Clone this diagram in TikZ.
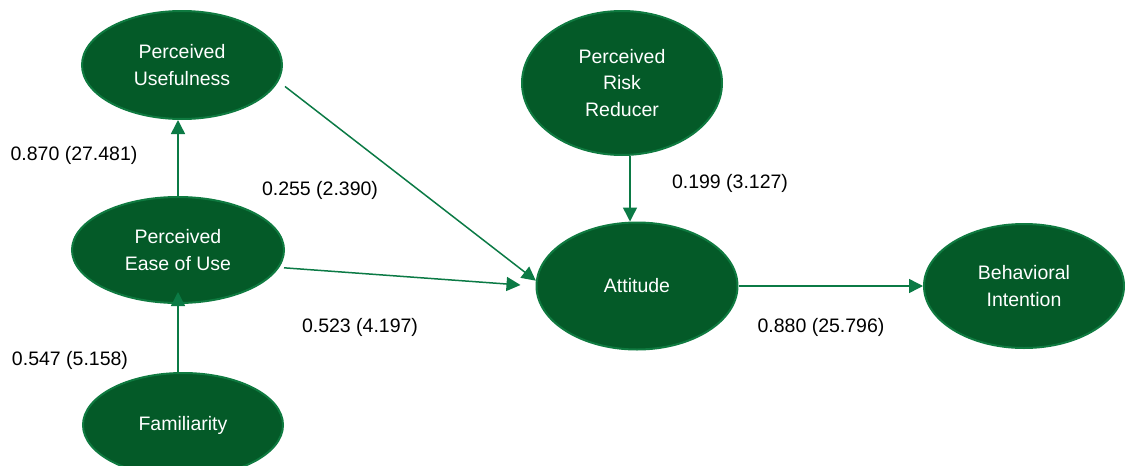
\documentclass[tikz,border=0pt]{standalone}
\usepackage{fontspec}
\setmainfont{Liberation Sans}
\usetikzlibrary{shapes.geometric,arrows.meta}
\definecolor{efill}{HTML}{045A28}
\definecolor{edraw}{HTML}{0F7A40}
\definecolor{arr}{HTML}{0B7A45}
\begin{document}
\begin{tikzpicture}[x=1pt,y=-1pt,
  lat/.style={ellipse, fill=efill, draw=edraw, line width=2pt, text=white,
    align=center, inner sep=0pt, font=\fontsize{19.5}{26.5}\selectfont},
  link/.style={draw=arr, line width=1.5pt, -{Triangle[length=14pt,width=14pt]}},
  coef/.style={font=\fontsize{19.5}{24}\selectfont, text=black, inner sep=0pt}]
\useasboundingbox (0,0) rectangle (1125,466);
\clip (0,0) rectangle (1125,466);

\node[lat, minimum width=200pt, minimum height=108pt] (PU) at (182,65) {Perceived\\Usefulness};
\node[lat, minimum width=212pt, minimum height=106pt] (PEOU) at (178,250) {Perceived\\Ease of Use};
\node[lat, minimum width=200pt, minimum height=104pt] (Fam) at (183,425) {Familiarity};
\node[lat, minimum width=200pt, minimum height=144pt] (PRR) at (622,83) {Perceived\\Risk\\Reducer};
\node[lat, minimum width=201pt, minimum height=127pt] (Att) at (637,286) {Attitude};
\node[lat, minimum width=200pt, minimum height=124pt] (BI) at (1024,286) {Behavioral\\Intention};

\draw[link] (PEOU.north) -- (PEOU.north |- PU.south);
\draw[link] (PEOU.south |- Fam.north) -- ([yshift=12pt]PEOU.south);
\draw[link] ([xshift=10pt]PU.-13) -- (Att.177);
\draw[link] ([xshift=5pt]PEOU.-10) -- ([xshift=-15pt,yshift=1pt]Att.west);
\draw[link] ([xshift=8pt]PRR.south) -- ([xshift=8pt]PRR.south |- Att.north);
\draw[link] (Att.east) -- (BI.west);

\node[coef] (c1) at (74,155) {0.870 (27.481)};
\node[coef] (c2) at (320,190) {0.255 (2.390)};
\node[coef] (c3) at (360,327) {0.523 (4.197)};
\node[coef] (c4) at (70,360) {0.547 (5.158)};
\node[coef] (c5) at (730,183) {0.199 (3.127)};
\node[coef] (c6) at (821,327) {0.880 (25.796)};
\end{tikzpicture}
\end{document}
